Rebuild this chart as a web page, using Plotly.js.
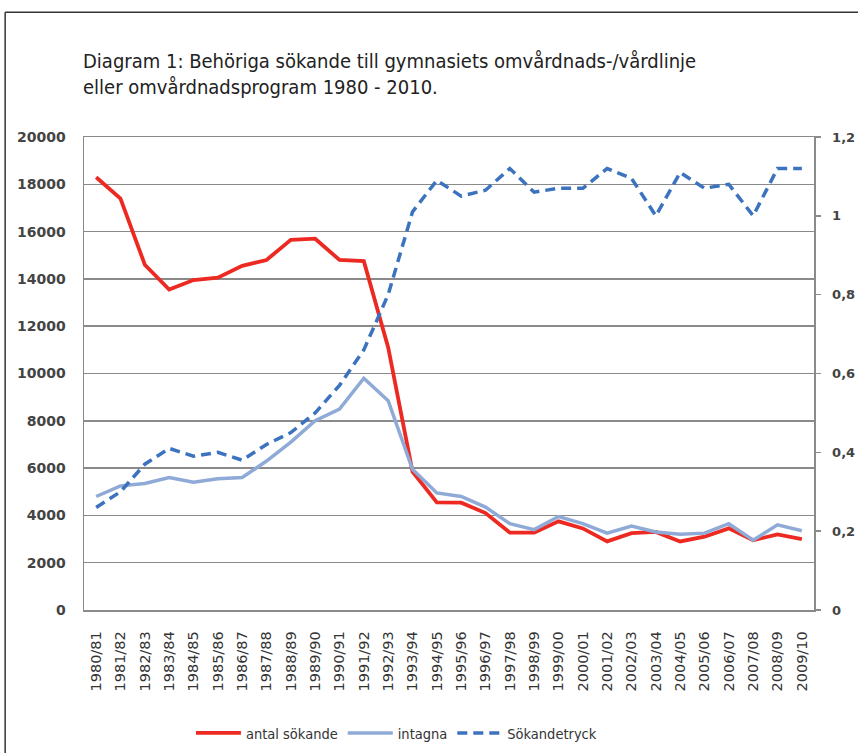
<!DOCTYPE html>
<html>
<head>
<meta charset="utf-8">
<script src="https://cdn.plot.ly/plotly-3.0.1.min.js"></script>
<style>
  html, body { margin: 0; padding: 0; background: #fff; }
  #chart { width: 858px; height: 753px; }
</style>
</head>
<body>
<div id="chart"></div>
<script>
const categories = ["1980/81","1981/82","1982/83","1983/84","1984/85","1985/86","1986/87","1987/88","1988/89","1989/90",
  "1990/91","1991/92","1992/93","1993/94","1994/95","1995/96","1996/97","1997/98","1998/99","1999/00",
  "2000/01","2001/02","2002/03","2003/04","2004/05","2005/06","2006/07","2007/08","2008/09","2009/10"];

const antalSokande = [18300, 17400, 14600, 13550, 13950, 14050, 14550, 14800, 15650, 15700,
  14800, 14750, 11100, 5850, 4550, 4540, 4100, 3270, 3270, 3750,
  3450, 2900, 3250, 3300, 2900, 3100, 3450, 2950, 3200, 3000];

const intagna = [4800, 5250, 5350, 5600, 5400, 5550, 5600, 6300, 7100, 8000,
  8500, 9800, 8850, 5950, 4950, 4800, 4350, 3650, 3400, 3950,
  3650, 3250, 3550, 3300, 3200, 3250, 3650, 2950, 3600, 3350];

const sokandetryck = [0.26, 0.30, 0.37, 0.41, 0.39, 0.40, 0.38, 0.42, 0.45, 0.50,
  0.57, 0.66, 0.80, 1.01, 1.09, 1.05, 1.065, 1.12, 1.06, 1.07,
  1.07, 1.12, 1.095, 1.0, 1.11, 1.07, 1.08, 1.0, 1.12, 1.12];

const leftTicks = [0, 2000, 4000, 6000, 8000, 10000, 12000, 14000, 16000, 18000, 20000];
const rightTicks = [0, 0.2, 0.4, 0.6, 0.8, 1, 1.2];
const rightTickText = ["0", "0,2", "0,4", "0,6", "0,8", "1", "1,2"];

const titleText = "Diagram 1: Behöriga sökande till gymnasiets omvårdnads-/vårdlinje<br>eller omvårdnadsprogram 1980 - 2010.";

const traces = [
  { x: categories, y: antalSokande, name: "antal sökande", type: "scatter", mode: "lines",
    line: { color: "#ec2a22", width: 3.8 }, yaxis: "y" },
  { x: categories, y: intagna, name: "intagna", type: "scatter", mode: "lines",
    line: { color: "#8faad6", width: 3.5 }, yaxis: "y" },
  { x: categories, y: sokandetryck, name: "Sökandetryck", type: "scatter", mode: "lines",
    line: { color: "#3c73bf", width: 3.5, dash: "10px,6px" }, yaxis: "y2" }
];

const layout = {
  width: 858, height: 753,
  margin: { l: 84, r: 44, t: 137, b: 143, autoexpand: false },
  paper_bgcolor: "#fff", plot_bgcolor: "#fff",
  showlegend: true,
  title: {
    text: titleText,
    font: { family: "DejaVu Sans Condensed", size: 20, color: "#222" },
    xref: "container", x: 83/858, xanchor: "left",
    yref: "container", y: 1 - 68/753, yanchor: "top",
    automargin: false
  },
  xaxis: {
    type: "category",
    tickangle: -90,
    tickfont: { family: "DejaVu Sans", size: 14.5, color: "#333" },
    showgrid: false, zeroline: false,
    showline: true, linecolor: "#8a8a8a", linewidth: 1.5, mirror: true,
    ticks: "", ticklabelstandoff: 14, automargin: false,
    range: [-0.5, 29.5]
  },
  yaxis: {
    range: [0, 20000], tickvals: leftTicks, ticktext: leftTicks.map(String),
    tickfont: { family: "DejaVu Sans", size: 14, color: "#444", weight: "bold" },
    showgrid: true, gridcolor: "#8a8a8a", gridwidth: 1.5,
    zeroline: false, showline: true, linecolor: "#8a8a8a", linewidth: 1.5,
    ticks: "", ticklabelstandoff: 14, automargin: false
  },
  yaxis2: {
    overlaying: "y", side: "right",
    range: [0, 1.2], tickvals: rightTicks, ticktext: rightTickText,
    tickfont: { family: "DejaVu Sans", size: 13, color: "#444", weight: "bold" },
    showgrid: false, zeroline: false,
    showline: true, linecolor: "#8a8a8a", linewidth: 1.5,
    ticks: "outside", ticklen: 5, tickcolor: "#8a8a8a", tickwidth: 1.5,
    ticklabelstandoff: 9, automargin: false
  },
  legend: {
    orientation: "h", x: 0.428, xanchor: "center", y: -0.26, yanchor: "middle",
    font: { family: "DejaVu Sans Condensed", size: 14.5, color: "#333" },
    itemwidth: 45,
    bgcolor: "rgba(0,0,0,0)"
  },
  shapes: [
    { type: "line", xref: "paper", yref: "paper", x0: -0.108, x1: 1.1, y0: 1.264, y1: 1.264,
      line: { color: "#333", width: 1.5 } },
    { type: "line", xref: "paper", yref: "paper", x0: -0.108, x1: -0.108, y0: 1.264, y1: -0.4,
      line: { color: "#333", width: 1.5 } }
  ]
};

Plotly.newPlot("chart", traces, layout, { displayModeBar: false, staticPlot: true });
</script>
</body>
</html>
